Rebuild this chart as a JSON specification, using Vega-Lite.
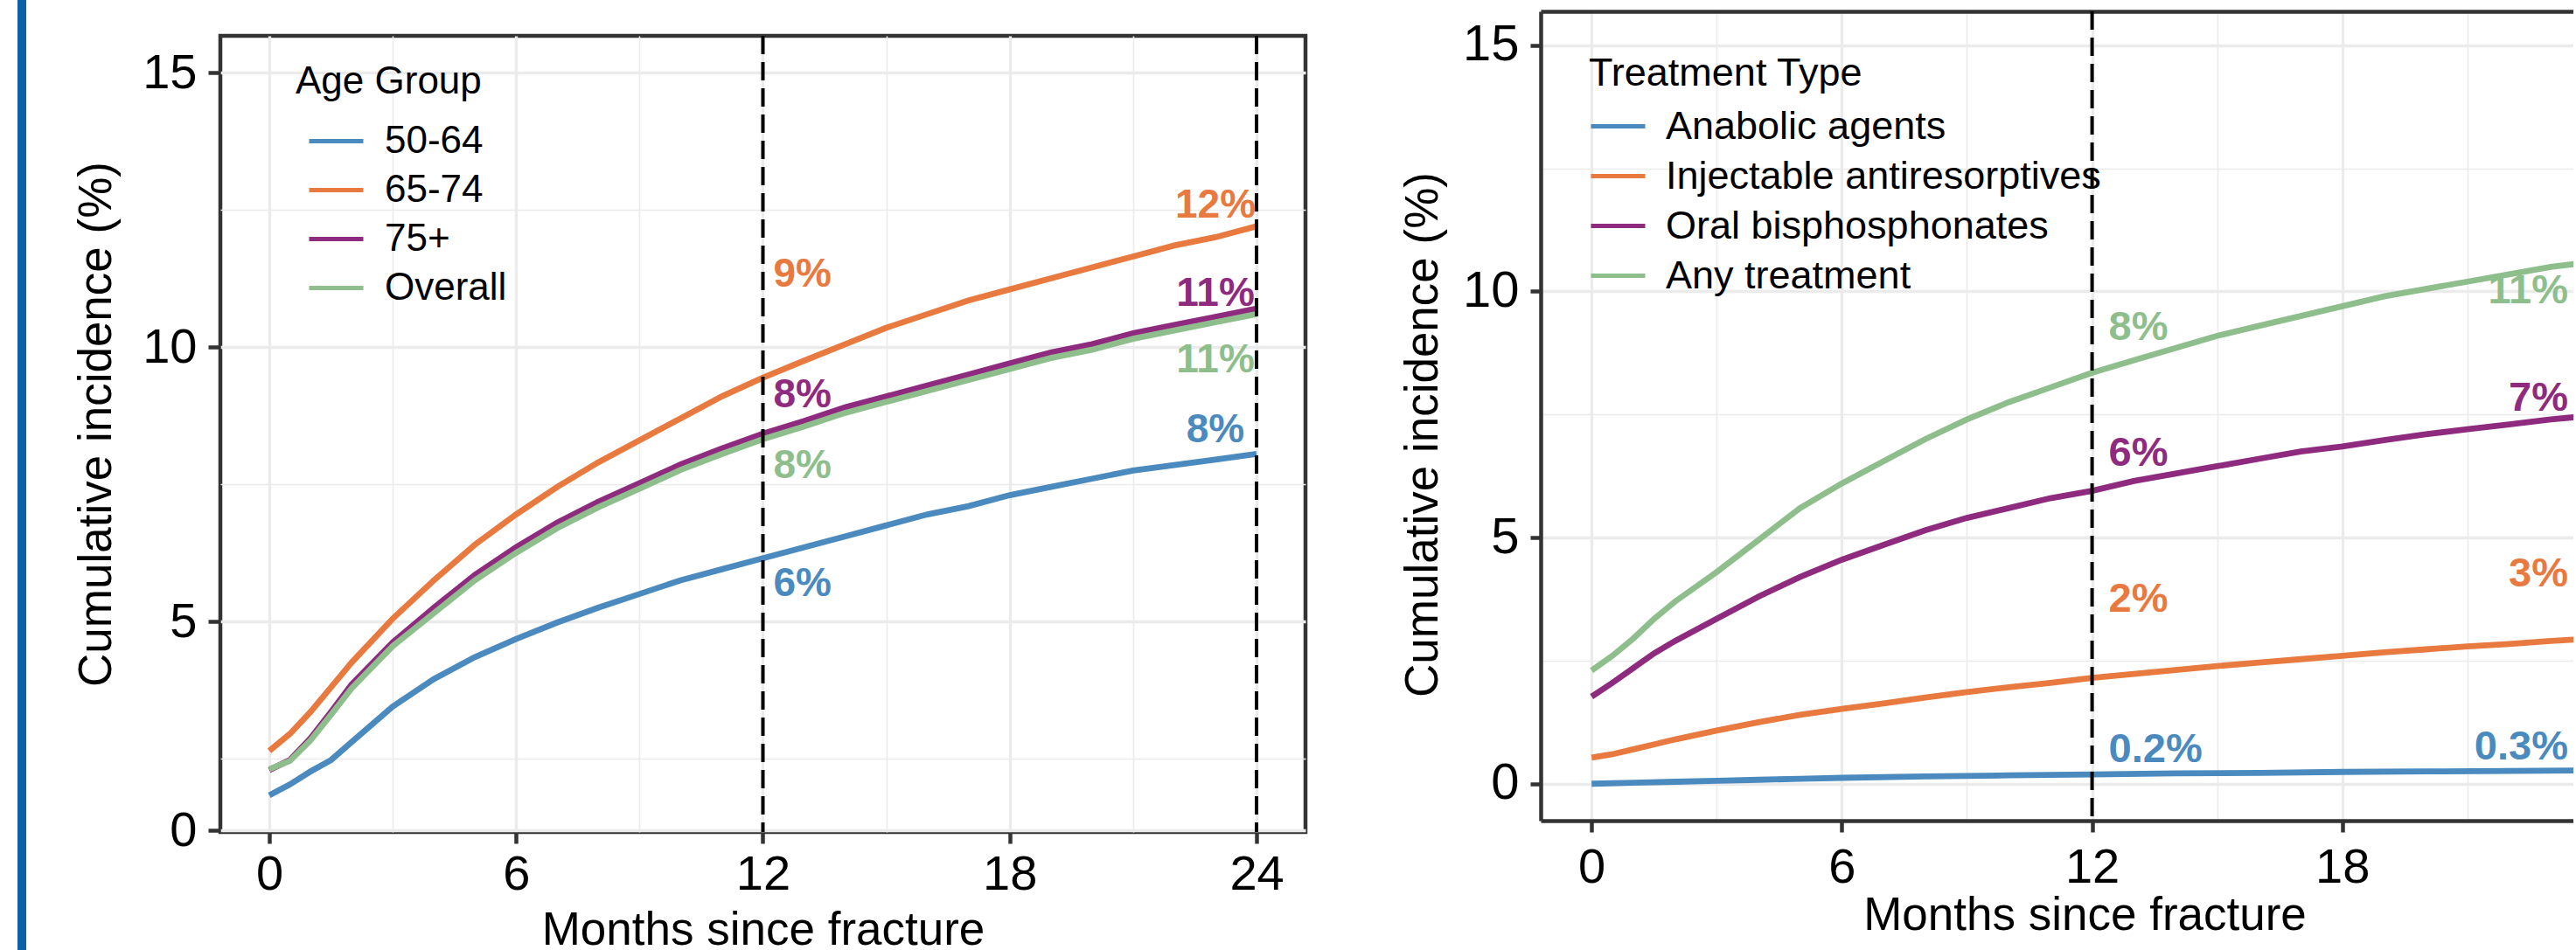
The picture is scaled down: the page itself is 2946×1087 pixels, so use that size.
{
  "$schema": "https://vega.github.io/schema/vega-lite/v6.json",
  "background": "white",
  "padding": {"left": 20, "top": 0, "right": 0, "bottom": 0},
  "config": {
    "font": "Liberation Sans, Arial, sans-serif",
    "view": {"stroke": null},
    "axis": {
      "labelColor": "black", "titleColor": "black", "titleFontWeight": "normal",
      "labelFont": "Liberation Sans, Arial, sans-serif",
      "titleFont": "Liberation Sans, Arial, sans-serif",
      "domainColor": "#333333", "tickColor": "#333333", "gridColor": "#EBEBEB"
    },
    "legend": {
      "labelFont": "Liberation Sans, Arial, sans-serif",
      "titleFont": "Liberation Sans, Arial, sans-serif",
      "labelColor": "black", "titleColor": "black", "titleFontWeight": "normal",
      "labelLimit": 1000, "titleLimit": 1000
    }
  },
  "datasets": {
    "age": [
      {"month": 0, "group": "50-64", "pct": 1.22}, {"month": 0.5, "group": "50-64", "pct": 1.6}, {"month": 1, "group": "50-64", "pct": 2.05}, {"month": 1.5, "group": "50-64", "pct": 2.45}, {"month": 2, "group": "50-64", "pct": 2.8}, {"month": 3, "group": "50-64", "pct": 3.45}, {"month": 4, "group": "50-64", "pct": 3.95}, {"month": 5, "group": "50-64", "pct": 4.35}, {"month": 6, "group": "50-64", "pct": 4.68}, {"month": 7, "group": "50-64", "pct": 4.98}, {"month": 8, "group": "50-64", "pct": 5.25}, {"month": 9, "group": "50-64", "pct": 5.5}, {"month": 10, "group": "50-64", "pct": 5.75}, {"month": 11, "group": "50-64", "pct": 5.95}, {"month": 12, "group": "50-64", "pct": 6.15}, {"month": 13, "group": "50-64", "pct": 6.35}, {"month": 14, "group": "50-64", "pct": 6.55}, {"month": 15, "group": "50-64", "pct": 6.75}, {"month": 16, "group": "50-64", "pct": 6.95}, {"month": 17, "group": "50-64", "pct": 7.1}, {"month": 18, "group": "50-64", "pct": 7.3}, {"month": 19, "group": "50-64", "pct": 7.45}, {"month": 20, "group": "50-64", "pct": 7.6}, {"month": 21, "group": "50-64", "pct": 7.75}, {"month": 22, "group": "50-64", "pct": 7.85}, {"month": 23, "group": "50-64", "pct": 7.95}, {"month": 24, "group": "50-64", "pct": 8.05},
      {"month": 0, "group": "65-74", "pct": 2.64}, {"month": 0.5, "group": "65-74", "pct": 2.95}, {"month": 1, "group": "65-74", "pct": 3.35}, {"month": 1.5, "group": "65-74", "pct": 3.8}, {"month": 2, "group": "65-74", "pct": 4.25}, {"month": 3, "group": "65-74", "pct": 5.05}, {"month": 4, "group": "65-74", "pct": 5.75}, {"month": 5, "group": "65-74", "pct": 6.4}, {"month": 6, "group": "65-74", "pct": 6.95}, {"month": 7, "group": "65-74", "pct": 7.45}, {"month": 8, "group": "65-74", "pct": 7.9}, {"month": 9, "group": "65-74", "pct": 8.3}, {"month": 10, "group": "65-74", "pct": 8.7}, {"month": 11, "group": "65-74", "pct": 9.1}, {"month": 12, "group": "65-74", "pct": 9.44}, {"month": 13, "group": "65-74", "pct": 9.75}, {"month": 14, "group": "65-74", "pct": 10.05}, {"month": 15, "group": "65-74", "pct": 10.35}, {"month": 16, "group": "65-74", "pct": 10.6}, {"month": 17, "group": "65-74", "pct": 10.85}, {"month": 18, "group": "65-74", "pct": 11.05}, {"month": 19, "group": "65-74", "pct": 11.25}, {"month": 20, "group": "65-74", "pct": 11.45}, {"month": 21, "group": "65-74", "pct": 11.65}, {"month": 22, "group": "65-74", "pct": 11.85}, {"month": 23, "group": "65-74", "pct": 12.0}, {"month": 24, "group": "65-74", "pct": 12.2},
      {"month": 0, "group": "75+", "pct": 2.1}, {"month": 0.5, "group": "75+", "pct": 2.45}, {"month": 1, "group": "75+", "pct": 2.87}, {"month": 1.5, "group": "75+", "pct": 3.35}, {"month": 2, "group": "75+", "pct": 3.85}, {"month": 3, "group": "75+", "pct": 4.62}, {"month": 4, "group": "75+", "pct": 5.25}, {"month": 5, "group": "75+", "pct": 5.85}, {"month": 6, "group": "75+", "pct": 6.35}, {"month": 7, "group": "75+", "pct": 6.8}, {"month": 8, "group": "75+", "pct": 7.18}, {"month": 9, "group": "75+", "pct": 7.52}, {"month": 10, "group": "75+", "pct": 7.86}, {"month": 11, "group": "75+", "pct": 8.15}, {"month": 12, "group": "75+", "pct": 8.42}, {"month": 13, "group": "75+", "pct": 8.65}, {"month": 14, "group": "75+", "pct": 8.9}, {"month": 15, "group": "75+", "pct": 9.1}, {"month": 16, "group": "75+", "pct": 9.3}, {"month": 17, "group": "75+", "pct": 9.5}, {"month": 18, "group": "75+", "pct": 9.7}, {"month": 19, "group": "75+", "pct": 9.9}, {"month": 20, "group": "75+", "pct": 10.05}, {"month": 21, "group": "75+", "pct": 10.25}, {"month": 22, "group": "75+", "pct": 10.4}, {"month": 23, "group": "75+", "pct": 10.55}, {"month": 24, "group": "75+", "pct": 10.7},
      {"month": 0, "group": "Overall", "pct": 2.13}, {"month": 0.5, "group": "Overall", "pct": 2.42}, {"month": 1, "group": "Overall", "pct": 2.83}, {"month": 1.5, "group": "Overall", "pct": 3.3}, {"month": 2, "group": "Overall", "pct": 3.78}, {"month": 3, "group": "Overall", "pct": 4.55}, {"month": 4, "group": "Overall", "pct": 5.15}, {"month": 5, "group": "Overall", "pct": 5.75}, {"month": 6, "group": "Overall", "pct": 6.25}, {"month": 7, "group": "Overall", "pct": 6.7}, {"month": 8, "group": "Overall", "pct": 7.08}, {"month": 9, "group": "Overall", "pct": 7.42}, {"month": 10, "group": "Overall", "pct": 7.76}, {"month": 11, "group": "Overall", "pct": 8.05}, {"month": 12, "group": "Overall", "pct": 8.32}, {"month": 13, "group": "Overall", "pct": 8.55}, {"month": 14, "group": "Overall", "pct": 8.8}, {"month": 15, "group": "Overall", "pct": 9.0}, {"month": 16, "group": "Overall", "pct": 9.2}, {"month": 17, "group": "Overall", "pct": 9.4}, {"month": 18, "group": "Overall", "pct": 9.6}, {"month": 19, "group": "Overall", "pct": 9.8}, {"month": 20, "group": "Overall", "pct": 9.95}, {"month": 21, "group": "Overall", "pct": 10.15}, {"month": 22, "group": "Overall", "pct": 10.3}, {"month": 23, "group": "Overall", "pct": 10.45}, {"month": 24, "group": "Overall", "pct": 10.6}
    ],
    "treat": [
      {"month": 0, "treatment": "Anabolic agents", "pct": 0.0}, {"month": 1, "treatment": "Anabolic agents", "pct": 0.02}, {"month": 2, "treatment": "Anabolic agents", "pct": 0.04}, {"month": 3, "treatment": "Anabolic agents", "pct": 0.06}, {"month": 4, "treatment": "Anabolic agents", "pct": 0.08}, {"month": 5, "treatment": "Anabolic agents", "pct": 0.1}, {"month": 6, "treatment": "Anabolic agents", "pct": 0.12}, {"month": 8, "treatment": "Anabolic agents", "pct": 0.15}, {"month": 10, "treatment": "Anabolic agents", "pct": 0.17}, {"month": 12, "treatment": "Anabolic agents", "pct": 0.19}, {"month": 14, "treatment": "Anabolic agents", "pct": 0.21}, {"month": 16, "treatment": "Anabolic agents", "pct": 0.22}, {"month": 18, "treatment": "Anabolic agents", "pct": 0.24}, {"month": 20, "treatment": "Anabolic agents", "pct": 0.25}, {"month": 22, "treatment": "Anabolic agents", "pct": 0.26}, {"month": 24, "treatment": "Anabolic agents", "pct": 0.27},
      {"month": 0, "treatment": "Injectable antiresorptives", "pct": 0.53}, {"month": 0.5, "treatment": "Injectable antiresorptives", "pct": 0.6}, {"month": 1, "treatment": "Injectable antiresorptives", "pct": 0.7}, {"month": 1.5, "treatment": "Injectable antiresorptives", "pct": 0.8}, {"month": 2, "treatment": "Injectable antiresorptives", "pct": 0.9}, {"month": 3, "treatment": "Injectable antiresorptives", "pct": 1.08}, {"month": 4, "treatment": "Injectable antiresorptives", "pct": 1.25}, {"month": 5, "treatment": "Injectable antiresorptives", "pct": 1.4}, {"month": 6, "treatment": "Injectable antiresorptives", "pct": 1.52}, {"month": 7, "treatment": "Injectable antiresorptives", "pct": 1.63}, {"month": 8, "treatment": "Injectable antiresorptives", "pct": 1.75}, {"month": 9, "treatment": "Injectable antiresorptives", "pct": 1.86}, {"month": 10, "treatment": "Injectable antiresorptives", "pct": 1.96}, {"month": 11, "treatment": "Injectable antiresorptives", "pct": 2.05}, {"month": 12, "treatment": "Injectable antiresorptives", "pct": 2.15}, {"month": 13, "treatment": "Injectable antiresorptives", "pct": 2.23}, {"month": 14, "treatment": "Injectable antiresorptives", "pct": 2.31}, {"month": 15, "treatment": "Injectable antiresorptives", "pct": 2.39}, {"month": 16, "treatment": "Injectable antiresorptives", "pct": 2.46}, {"month": 17, "treatment": "Injectable antiresorptives", "pct": 2.53}, {"month": 18, "treatment": "Injectable antiresorptives", "pct": 2.6}, {"month": 19, "treatment": "Injectable antiresorptives", "pct": 2.67}, {"month": 20, "treatment": "Injectable antiresorptives", "pct": 2.73}, {"month": 21, "treatment": "Injectable antiresorptives", "pct": 2.79}, {"month": 22, "treatment": "Injectable antiresorptives", "pct": 2.84}, {"month": 23, "treatment": "Injectable antiresorptives", "pct": 2.9}, {"month": 24, "treatment": "Injectable antiresorptives", "pct": 2.95},
      {"month": 0, "treatment": "Oral bisphosphonates", "pct": 1.77}, {"month": 0.5, "treatment": "Oral bisphosphonates", "pct": 2.05}, {"month": 1, "treatment": "Oral bisphosphonates", "pct": 2.35}, {"month": 1.5, "treatment": "Oral bisphosphonates", "pct": 2.65}, {"month": 2, "treatment": "Oral bisphosphonates", "pct": 2.9}, {"month": 3, "treatment": "Oral bisphosphonates", "pct": 3.35}, {"month": 4, "treatment": "Oral bisphosphonates", "pct": 3.8}, {"month": 5, "treatment": "Oral bisphosphonates", "pct": 4.2}, {"month": 6, "treatment": "Oral bisphosphonates", "pct": 4.55}, {"month": 7, "treatment": "Oral bisphosphonates", "pct": 4.85}, {"month": 8, "treatment": "Oral bisphosphonates", "pct": 5.15}, {"month": 9, "treatment": "Oral bisphosphonates", "pct": 5.4}, {"month": 10, "treatment": "Oral bisphosphonates", "pct": 5.6}, {"month": 11, "treatment": "Oral bisphosphonates", "pct": 5.8}, {"month": 12, "treatment": "Oral bisphosphonates", "pct": 5.95}, {"month": 13, "treatment": "Oral bisphosphonates", "pct": 6.15}, {"month": 14, "treatment": "Oral bisphosphonates", "pct": 6.3}, {"month": 15, "treatment": "Oral bisphosphonates", "pct": 6.45}, {"month": 16, "treatment": "Oral bisphosphonates", "pct": 6.6}, {"month": 17, "treatment": "Oral bisphosphonates", "pct": 6.75}, {"month": 18, "treatment": "Oral bisphosphonates", "pct": 6.85}, {"month": 19, "treatment": "Oral bisphosphonates", "pct": 6.98}, {"month": 20, "treatment": "Oral bisphosphonates", "pct": 7.1}, {"month": 21, "treatment": "Oral bisphosphonates", "pct": 7.2}, {"month": 22, "treatment": "Oral bisphosphonates", "pct": 7.3}, {"month": 23, "treatment": "Oral bisphosphonates", "pct": 7.4}, {"month": 24, "treatment": "Oral bisphosphonates", "pct": 7.48},
      {"month": 0, "treatment": "Any treatment", "pct": 2.3}, {"month": 0.5, "treatment": "Any treatment", "pct": 2.6}, {"month": 1, "treatment": "Any treatment", "pct": 2.95}, {"month": 1.5, "treatment": "Any treatment", "pct": 3.35}, {"month": 2, "treatment": "Any treatment", "pct": 3.7}, {"month": 3, "treatment": "Any treatment", "pct": 4.3}, {"month": 4, "treatment": "Any treatment", "pct": 4.95}, {"month": 5, "treatment": "Any treatment", "pct": 5.6}, {"month": 6, "treatment": "Any treatment", "pct": 6.1}, {"month": 7, "treatment": "Any treatment", "pct": 6.55}, {"month": 8, "treatment": "Any treatment", "pct": 7.0}, {"month": 9, "treatment": "Any treatment", "pct": 7.4}, {"month": 10, "treatment": "Any treatment", "pct": 7.75}, {"month": 11, "treatment": "Any treatment", "pct": 8.05}, {"month": 12, "treatment": "Any treatment", "pct": 8.35}, {"month": 13, "treatment": "Any treatment", "pct": 8.6}, {"month": 14, "treatment": "Any treatment", "pct": 8.85}, {"month": 15, "treatment": "Any treatment", "pct": 9.1}, {"month": 16, "treatment": "Any treatment", "pct": 9.3}, {"month": 17, "treatment": "Any treatment", "pct": 9.5}, {"month": 18, "treatment": "Any treatment", "pct": 9.7}, {"month": 19, "treatment": "Any treatment", "pct": 9.9}, {"month": 20, "treatment": "Any treatment", "pct": 10.05}, {"month": 21, "treatment": "Any treatment", "pct": 10.2}, {"month": 22, "treatment": "Any treatment", "pct": 10.35}, {"month": 23, "treatment": "Any treatment", "pct": 10.5}, {"month": 24, "treatment": "Any treatment", "pct": 10.6}
    ],
    "agelab": [
      {"month": 12, "group": "65-74", "pct": 11.32, "label": "9%"},
      {"month": 12, "group": "75+", "pct": 9.13, "label": "8%"},
      {"month": 12, "group": "Overall", "pct": 7.84, "label": "8%"},
      {"month": 12, "group": "50-64", "pct": 5.69, "label": "6%"},
      {"month": 24, "group": "65-74", "pct": 12.58, "label": "12%"},
      {"month": 24, "group": "75+", "pct": 10.98, "label": "11%"},
      {"month": 24, "group": "Overall", "pct": 9.76, "label": "11%"},
      {"month": 24, "group": "50-64", "pct": 8.48, "label": "8%"}
    ],
    "treatlab": [
      {"month": 12, "treatment": "Any treatment", "pct": 9.26, "label": "8%"},
      {"month": 12, "treatment": "Oral bisphosphonates", "pct": 6.7, "label": "6%"},
      {"month": 12, "treatment": "Injectable antiresorptives", "pct": 3.75, "label": "2%"},
      {"month": 12, "treatment": "Anabolic agents", "pct": 0.68, "label": "0.2%"},
      {"month": 24, "treatment": "Any treatment", "pct": 10.0, "label": "11%"},
      {"month": 24, "treatment": "Oral bisphosphonates", "pct": 7.82, "label": "7%"},
      {"month": 24, "treatment": "Injectable antiresorptives", "pct": 4.25, "label": "3%"},
      {"month": 24, "treatment": "Anabolic agents", "pct": 0.75, "label": "0.3%"}
    ],
    "cuts": [{"month": 12}, {"month": 24}]
  },
  "spacing": 51,
  "resolve": {"scale": {"color": "independent"}, "legend": {"color": "independent"}},
  "hconcat": [
    {
      "width": 10,
      "height": 1087,
      "view": {"fill": "#0B60A8", "stroke": null},
      "data": {"values": [{"k": 1}]},
      "mark": {"type": "point", "opacity": 0, "size": 0},
      "encoding": {}
    },
    {
      "spacing": 105,
      "resolve": {"scale": {"color": "independent"}, "legend": {"color": "independent"}},
      "hconcat": [
        {
          "spacing": 35,
          "resolve": {"scale": {"color": "independent"}, "legend": {"color": "independent"}},
          "vconcat": [
            {
              "width": 1,
              "height": 1,
              "view": {"stroke": null},
              "data": {"values": [{"k": 1}]},
              "mark": {"type": "point", "opacity": 0, "size": 0},
              "encoding": {}
            },
            {
              "width": 1241,
              "height": 911,
              "view": {"stroke": "#333333", "strokeWidth": 4.5},
              "resolve": {"axis": {"x": "independent", "y": "independent"}},
              "layer": [
                {
                  "data": {"name": "age"},
                  "mark": {"type": "line", "strokeWidth": 6.8, "clip": true},
                  "encoding": {
                    "x": {"field": "month", "type": "quantitative",
                      "scale": {"domain": [-1.19, 25.19], "nice": false, "zero": false},
                      "axis": {"orient": "bottom", "values": [0, 6, 12, 18, 24], "grid": true, "gridWidth": 3.3, "domain": false,
                        "ticks": true, "tickSize": 13, "tickWidth": 4.5, "labelFontSize": 56, "labelPadding": 8,
                        "title": "Months since fracture", "titleFontSize": 53, "titleX": 620.5, "titleY": 86}},
                    "y": {"field": "pct", "type": "quantitative",
                      "scale": {"domain": [-0.06, 2.5, 15.67], "range": [911, 827, 0], "nice": false, "zero": false},
                      "axis": {"orient": "left", "values": [0, 5, 10, 15], "grid": true, "gridWidth": 3.3, "domain": false,
                        "tickSize": 14, "tickWidth": 4.5, "labelFontSize": 56, "labelPadding": 13,
                        "title": "Cumulative incidence (%)", "titleFontSize": 53, "titleX": -115, "titleY": 444}},
                    "color": {"field": "group", "type": "nominal",
                      "scale": {"domain": ["50-64", "65-74", "75+", "Overall"], "range": ["#4A8ABE", "#E8793F", "#8F2B7F", "#8FBE8D"]},
                      "legend": {"orient": "none", "legendX": 86, "legendY": 31, "title": "Age Group", "titleFontSize": 44,
                        "titlePadding": 12, "labelFontSize": 44, "symbolType": "stroke", "symbolSize": 3844, "symbolStrokeWidth": 5,
                        "symbolOffset": 13, "labelOffset": 22, "rowPadding": -10, "padding": 0}}
                  }
                },
                {
                  "data": {"name": "cuts"},
                  "mark": {"type": "rule", "color": "black", "strokeWidth": 4, "strokeDash": [21, 9]},
                  "encoding": {"x": {"field": "month", "type": "quantitative", "axis": null}}
                },
                {
                  "data": {"name": "agelab"},
                  "transform": [{"filter": "datum.month == 12"}],
                  "mark": {"type": "text", "align": "left", "baseline": "middle", "dx": 12, "fontSize": 46, "fontWeight": "bold"},
                  "encoding": {
                    "x": {"field": "month", "type": "quantitative",
                      "axis": {"orient": "top", "values": [3, 9, 15, 21], "grid": true, "gridWidth": 1.6, "domain": false, "ticks": false, "labels": false, "title": null}},
                    "y": {"field": "pct", "type": "quantitative",
                      "axis": {"orient": "right", "values": [2.5, 7.5, 12.5], "grid": true, "gridWidth": 1.6, "domain": false, "ticks": false, "labels": false, "title": null}},
                    "text": {"field": "label"},
                    "color": {"field": "group", "type": "nominal", "legend": null}
                  }
                },
                {
                  "data": {"name": "agelab"},
                  "transform": [{"filter": "datum.month == 24"}],
                  "mark": {"type": "text", "align": "center", "baseline": "middle", "dx": -47, "fontSize": 46, "fontWeight": "bold"},
                  "encoding": {
                    "x": {"field": "month", "type": "quantitative", "axis": null},
                    "y": {"field": "pct", "type": "quantitative", "axis": null},
                    "text": {"field": "label"},
                    "color": {"field": "group", "type": "nominal", "legend": null}
                  }
                }
              ]
            }
          ]
        },
        {
          "spacing": 12,
          "resolve": {"scale": {"color": "independent"}, "legend": {"color": "independent"}},
          "vconcat": [
            {
              "width": 1,
              "height": 1,
              "view": {"stroke": null},
              "data": {"values": [{"k": 1}]},
              "mark": {"type": "point", "opacity": 0, "size": 0},
              "encoding": {}
            },
            {
              "width": 1181,
              "height": 926,
              "view": {"stroke": null},
              "resolve": {"axis": {"x": "independent", "y": "independent"}},
              "layer": [
                {
                  "data": {"name": "treat"},
                  "mark": {"type": "line", "strokeWidth": 6.8, "clip": true},
                  "encoding": {
                    "x": {"field": "month", "type": "quantitative",
                      "scale": {"domain": [-1.22, 23.54], "nice": false, "zero": false},
                      "axis": {"orient": "bottom", "values": [0, 6, 12, 18], "grid": true, "gridWidth": 3.3, "domain": true, "domainWidth": 4.5,
                        "ticks": true, "tickSize": 13, "tickWidth": 4.5, "labelFontSize": 56, "labelPadding": 13,
                        "title": "Months since fracture", "titleFontSize": 53, "titleX": 622, "titleY": 82}},
                    "y": {"field": "pct", "type": "quantitative",
                      "scale": {"domain": [-0.75, 15.69], "nice": false, "zero": false},
                      "axis": {"orient": "left", "values": [0, 5, 10, 15], "grid": true, "gridWidth": 3.3, "domain": true, "domainWidth": 4.5,
                        "tickSize": 12, "tickWidth": 4.5, "labelFontSize": 58, "labelPadding": 13,
                        "title": "Cumulative incidence (%)", "titleFontSize": 53, "titleX": -108, "titleY": 484}},
                    "color": {"field": "treatment", "type": "nominal",
                      "scale": {"domain": ["Anabolic agents", "Injectable antiresorptives", "Oral bisphosphonates", "Any treatment"], "range": ["#4A8ABE", "#E8793F", "#8F2B7F", "#8FBE8D"]},
                      "legend": {"orient": "none", "legendX": 55, "legendY": 49, "title": "Treatment Type", "titleFontSize": 45,
                        "titlePadding": 4, "labelFontSize": 45, "symbolType": "stroke", "symbolSize": 3844, "symbolStrokeWidth": 5,
                        "symbolOffset": 0, "labelOffset": 21, "rowPadding": -5, "padding": 0}}
                  }
                },
                {
                  "data": {"name": "cuts"},
                  "mark": {"type": "rule", "color": "black", "strokeWidth": 4, "strokeDash": [21, 9], "clip": true},
                  "encoding": {"x": {"field": "month", "type": "quantitative", "axis": null}}
                },
                {
                  "data": {"name": "treatlab"},
                  "transform": [{"filter": "datum.month == 12"}],
                  "mark": {"type": "text", "align": "left", "baseline": "middle", "dx": 19, "fontSize": 47, "fontWeight": "bold", "clip": true},
                  "encoding": {
                    "x": {"field": "month", "type": "quantitative",
                      "axis": {"orient": "top", "values": [3, 9, 15, 21], "grid": true, "gridWidth": 1.6, "domain": true, "domainWidth": 4.5, "ticks": false, "labels": false, "title": null}},
                    "y": {"field": "pct", "type": "quantitative",
                      "axis": {"orient": "right", "values": [2.5, 7.5, 12.5], "grid": true, "gridWidth": 1.6, "domain": false, "ticks": false, "labels": false, "title": null}},
                    "text": {"field": "label"},
                    "color": {"field": "treatment", "type": "nominal", "legend": null}
                  }
                },
                {
                  "data": {"name": "treatlab"},
                  "transform": [{"filter": "datum.month == 24"}],
                  "mark": {"type": "text", "align": "right", "baseline": "middle", "dx": -28, "fontSize": 47, "fontWeight": "bold", "clip": true},
                  "encoding": {
                    "x": {"field": "month", "type": "quantitative", "axis": null},
                    "y": {"field": "pct", "type": "quantitative", "axis": null},
                    "text": {"field": "label"},
                    "color": {"field": "treatment", "type": "nominal", "legend": null}
                  }
                }
              ]
            }
          ]
        }
      ]
    }
  ]
}
